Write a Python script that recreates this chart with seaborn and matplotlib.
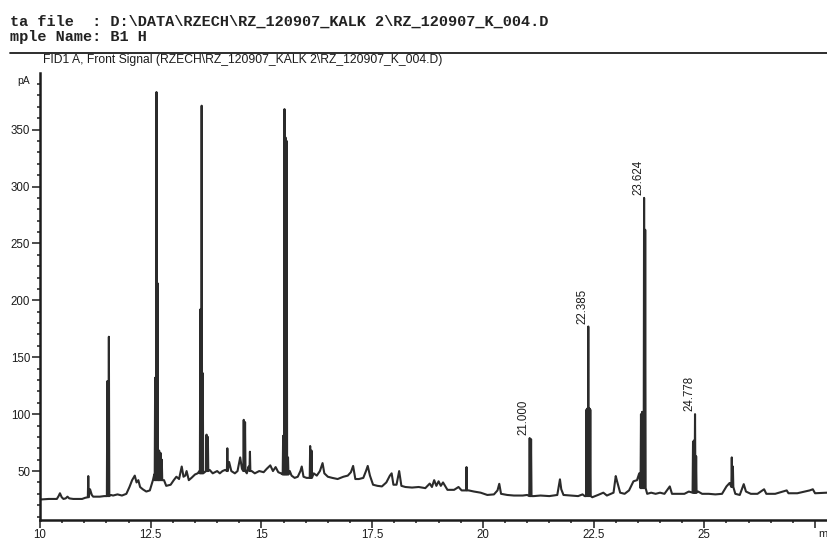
import numpy as np
import pandas as pd
import matplotlib
matplotlib.use("Agg")
import matplotlib.pyplot as plt
import seaborn as sns
from matplotlib.lines import Line2D

# ---------------- texts ----------------
header_lines = ["ta file  : D:\\DATA\\RZECH\\RZ_120907_KALK 2\\RZ_120907_K_004.D",
                "mple Name: B1 H"]
signal_title = "FID1 A, Front Signal (RZECH\\RZ_120907_KALK 2\\RZ_120907_K_004.D)"
y_unit = "pA"
x_unit = "m"

x_ticks = [10, 12.5, 15, 17.5, 20, 22.5, 25, 27.5]
x_tick_labels = ["10", "12.5", "15", "17.5", "20", "22.5", "25", ""]
y_ticks = [50, 100, 150, 200, 250, 300, 350]
y_tick_labels = ["50", "100", "150", "200", "250", "300", "350"]

# ---------------- baseline (noisy) vertices: time [min], signal [pA] ----------------
base_t = [10.00, 10.20, 10.38, 10.42, 10.45, 10.49, 10.53, 10.58, 10.62, 10.66, 10.75, 10.95, 11.02,
          11.13, 11.17, 11.20, 11.35, 11.45, 11.60, 11.65, 11.75, 11.85, 11.95, 12.02, 12.08, 12.14,
          12.18, 12.22, 12.26, 12.32, 12.40, 12.48, 12.55, 12.58, 12.80, 12.85, 12.95, 13.02, 13.08,
          13.14, 13.20, 13.24, 13.28, 13.31, 13.36, 13.42, 13.50, 13.56, 13.60, 13.83, 13.90, 14.00,
          14.06, 14.12, 14.18, 14.27, 14.32, 14.40, 14.46, 14.52, 14.56, 14.67, 14.71, 14.78, 14.85,
          14.95, 15.05, 15.12, 15.20, 15.26, 15.32, 15.38, 15.44, 15.64, 15.68, 15.75, 15.82, 15.88,
          15.91, 15.95, 16.02, 16.18, 16.25, 16.32, 16.38, 16.42, 16.50, 16.60, 16.72, 16.85, 16.95,
          17.02, 17.07, 17.12, 17.20, 17.30, 17.36, 17.40, 17.45, 17.52, 17.62, 17.72, 17.82, 17.90,
          17.94, 17.98, 18.05, 18.11, 18.16, 18.25, 18.40, 18.55, 18.70, 18.80, 18.85, 18.90, 18.95,
          19.00, 19.05, 19.10, 19.20, 19.35, 19.45, 19.52, 19.68, 19.80, 19.95, 20.10, 20.25, 20.33,
          20.37, 20.41, 20.55, 20.70, 20.90, 21.00, 21.15, 21.30, 21.50, 21.68, 21.74, 21.77, 21.82,
          22.00, 22.15, 22.25, 22.30, 22.47, 22.60, 22.72, 22.80, 22.95, 23.00, 23.03, 23.10, 23.20,
          23.30, 23.40, 23.48, 23.53, 23.71, 23.80, 23.90, 24.00, 24.10, 24.22, 24.27, 24.40, 24.55,
          24.65, 24.86, 24.95, 25.10, 25.25, 25.40, 25.50, 25.57, 25.70, 25.80, 25.89, 25.94, 26.05,
          26.20, 26.35, 26.40, 26.60, 26.86, 26.90, 27.10, 27.38, 27.45, 27.50, 27.77]
base_v = [25.0, 25.5, 25.5, 28.0, 30.5, 27.0, 25.5, 26.0, 27.5, 26.0, 25.5, 25.5, 26.5,
          34.0, 29.0, 27.5, 27.5, 28.0, 29.0, 28.5, 29.5, 28.5, 30.0, 36.0, 42.0, 46.0,
          40.0, 42.0, 36.0, 34.0, 32.0, 33.0, 42.0, 47.0, 42.0, 37.0, 38.0, 42.0, 45.0,
          43.0, 54.0, 45.0, 46.0, 50.0, 42.0, 44.0, 47.0, 48.0, 50.0, 51.0, 48.0, 50.0,
          48.0, 50.0, 51.0, 58.0, 50.0, 48.0, 50.0, 62.0, 52.0, 48.0, 54.0, 50.0, 48.0,
          50.0, 49.0, 52.0, 55.0, 50.0, 53.5, 49.0, 48.0, 50.0, 46.0, 44.0, 45.0, 50.0,
          54.0, 45.0, 44.0, 48.0, 46.0, 50.0, 57.0, 48.0, 45.0, 44.0, 43.0, 45.0, 46.0,
          49.0, 54.5, 43.0, 43.0, 44.0, 50.0, 54.5, 46.0, 38.0, 37.0, 36.5, 40.0, 46.0,
          48.0, 38.0, 38.0, 50.0, 37.0, 36.0, 35.5, 36.0, 35.0, 39.0, 36.0, 42.0, 37.0,
          41.0, 37.0, 40.0, 33.5, 33.5, 36.0, 33.0, 33.0, 32.0, 31.0, 29.0, 29.5, 33.0,
          38.8, 30.0, 29.0, 28.5, 28.5, 29.0, 28.0, 28.5, 28.0, 29.0, 42.7, 34.0, 29.0,
          28.5, 28.0, 29.5, 28.0, 27.0, 29.0, 31.0, 28.5, 31.0, 45.6, 41.0, 31.0, 30.0,
          33.0, 41.0, 42.0, 48.0, 30.0, 31.0, 30.0, 31.0, 30.0, 36.5, 30.0, 30.0, 30.0,
          32.0, 32.0, 30.0, 30.0, 29.5, 30.0, 36.5, 39.5, 30.0, 29.0, 38.5, 32.0, 30.0,
          30.0, 34.0, 30.0, 30.0, 33.0, 30.5, 30.5, 33.0, 34.0, 30.5, 31.0]

# ---------------- sharp peaks: apex time, apex height, foot level ----------------
peak_t = [11.09, 11.52, 11.555, 12.60, 12.63, 12.655, 12.69, 12.72, 12.75, 13.62, 13.65, 13.675,
          13.76, 13.79, 14.23, 14.60, 14.63, 14.74, 15.49, 15.52, 15.545, 15.57, 15.60, 16.10,
          16.13, 19.63, 21.057, 21.088, 22.34, 22.36, 22.38, 22.405, 22.425, 23.57, 23.595,
          23.615, 23.64, 23.665, 24.745, 24.77, 24.79, 24.815, 25.62, 25.645]
peak_h = [45.6, 129, 168, 132, 383, 215, 68, 66, 60, 192, 371, 136,
          82, 80, 70, 95, 93, 67, 81, 368, 343, 340, 62, 72,
          68, 53.5, 79, 78, 104, 105, 177, 105, 104, 100, 102,
          102, 290, 262, 76, 77, 100, 63, 62, 54]
peak_foot = [27, 28, 28, 42, 42, 42, 42, 42, 42, 48, 48, 48,
             50, 50, 50, 50, 50, 50, 47, 47, 47, 47, 47, 44,
             44, 33, 28, 28, 28, 28, 28, 28, 28, 35, 35,
             35, 35, 35, 31, 31, 31, 31, 36, 36]

# ---------------- retention-time labels ----------------
label_t = [21.057, 22.38, 23.64, 24.79]
label_h = [79, 177, 290, 100]
label_text = ["21.000", "22.385", "23.624", "24.778"]

# ---------------- build trace ----------------
half = 0.01
ts = list(base_t)
vs = list(base_v)
for t, h, f in zip(peak_t, peak_h, peak_foot):
    ts += [t - half, t, t + half]
    vs += [f, h, f]
order = np.argsort(np.array(ts), kind="stable")
df = pd.DataFrame({"time": np.array(ts)[order], "signal": np.array(vs)[order]})

# ---------------- figure ----------------
sns.set_style("ticks")
plt.rcParams["font.family"] = ["Liberation Sans", "DejaVu Sans"]
W, H = 827, 540
fig = plt.figure(figsize=(W / 100, H / 100), dpi=100)
ink = "#1c1c1c"

ax = fig.add_axes([40 / W, 20 / H, (W - 40) / W, (520 - 72.7) / H])
sns.lineplot(data=df, x="time", y="signal", ax=ax, sort=False, estimator=None,
             color="#2b2b2b", linewidth=1.5)

ax.set_xlim(10, 27.77)
ax.set_ylim(7, 400)
ax.set_xlabel("")
ax.set_ylabel("")
for s in ["top", "right"]:
    ax.spines[s].set_visible(False)
for s in ["left", "bottom"]:
    ax.spines[s].set_linewidth(1.8)
    ax.spines[s].set_color(ink)

ax.set_xticks(x_ticks)
ax.set_xticklabels(x_tick_labels)
ax.set_xticks(np.arange(10.5, 27.6, 0.5), minor=True)
ax.set_yticks(y_ticks)
ax.set_yticklabels(y_tick_labels)
ax.set_yticks([v for v in range(10, 400, 10) if v % 50 != 0], minor=True)

ax.tick_params(axis="both", which="major", direction="out", width=1.1, color=ink,
               labelsize=8.3, labelcolor=ink)
ax.tick_params(axis="x", which="major", length=5.5, pad=1.0)
ax.tick_params(axis="y", which="major", length=6, pad=1.0)
ax.tick_params(axis="both", which="minor", direction="out", width=1.1, length=2.5, color=ink)

for t, h, s in zip(label_t, label_h, label_text):
    ax.annotate(s, xy=(t, h), xytext=(-6, 3), textcoords="offset pixels",
                rotation=90, ha="center", va="bottom", fontsize=8.3, color=ink)

# header
fig.text(10 / W, 1 - 26 / H, header_lines[0], family=["Liberation Mono", "DejaVu Sans Mono"],
         fontsize=11, fontweight="bold", color="#222222", va="baseline", ha="left")
fig.text(10 / W, 1 - 41 / H, header_lines[1], family=["Liberation Mono", "DejaVu Sans Mono"],
         fontsize=11, fontweight="bold", color="#222222", va="baseline", ha="left")
fig.add_artist(Line2D([10 / W, 1.0], [1 - 52.7 / H, 1 - 52.7 / H], transform=fig.transFigure,
                      color=ink, linewidth=1.3))
fig.text(43 / W, 1 - 60 / H, signal_title, fontsize=8.7, color=ink, va="center", ha="left")
fig.text(30 / W, 1 - 80.7 / H, y_unit, fontsize=7.5, color=ink, va="center", ha="right")
fig.text(818 / W, 1 - 534 / H, x_unit, fontsize=8, color=ink, va="center", ha="left")

fig.savefig("out.png", dpi=100)
